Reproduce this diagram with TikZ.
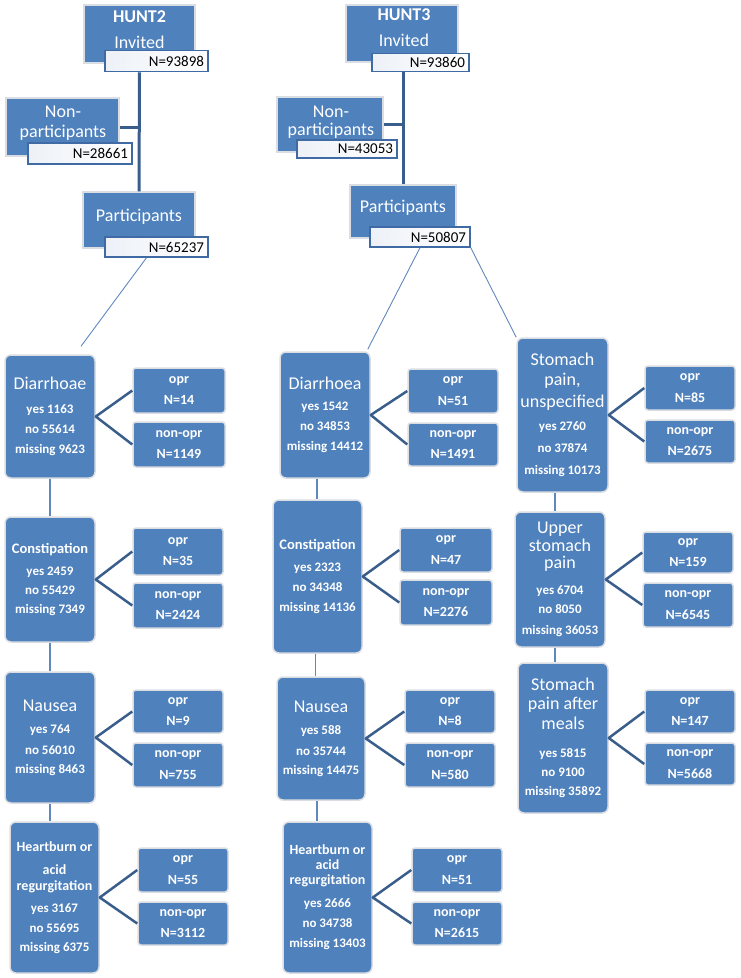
\documentclass[tikz,border=0pt]{standalone}
\usepackage{fontspec}
\setmainfont{Carlito}
\usetikzlibrary{calc}
\definecolor{boxblue}{HTML}{4F81BD}
\definecolor{glow}{HTML}{DADDE2}
\definecolor{bardark}{HTML}{3F6AA3}
\definecolor{barlight}{HTML}{EDF1F7}
\definecolor{conn}{HTML}{3A5E8C}
\definecolor{thinblue}{HTML}{5F88BE}
\newcommand\symfont{\fontsize{13}{20}\selectfont\bfseries\lineskiplimit=-40pt\relax}
\newcommand\symtitle[1]{{\fontsize{18}{20}\selectfont\mdseries #1}}
\newcommand\symtitleb[1]{{\fontsize{14.5}{20}\selectfont #1}}
\newcommand\symtitleh[1]{{\fontsize{14}{20}\selectfont #1}}
\begin{document}
\begin{tikzpicture}[x=1pt,y=-1pt,
  sz/.style 2 args={minimum width=#1pt, minimum height=#2pt},
  topbox/.style={rectangle, fill=boxblue, draw=glow, line width=1.5pt, inner sep=0pt},
  toptxt/.style={text=white, align=center, inner sep=0pt},
  bar/.style={rectangle, left color=barlight, right color=white, draw=bardark, line width=1.5pt,
    align=right, font=\fontsize{15}{15}\selectfont, text=black, inner xsep=4pt, inner ysep=0pt},
  sym/.style={rectangle, rounded corners=6pt, fill=boxblue, draw=glow, line width=1.5pt,
    text=white, align=center, font=\symfont, inner sep=0pt},
  leaf/.style={rectangle, rounded corners=3pt, fill=boxblue, draw=glow, line width=1.5pt,
    text=white, align=center, font=\fontsize{14}{21.5}\selectfont\bfseries,
    minimum width=90pt, minimum height=44pt, inner sep=0pt},
  trunk/.style={draw=conn, line width=3pt},
  vconn/.style={draw=conn, line width=2.5pt, line join=round},
  thinline/.style={draw=thinblue, line width=0.9pt},
  vline/.style={draw=thinblue, line width=1.4pt}
]
\useasboundingbox (0,0) rectangle (740,978);

% ---------------- HUNT2 top ----------------
\node[topbox, sz={111}{58}] (h2box) at (139.5,34) {};
\node[toptxt, font=\fontsize{18}{26}\selectfont] (h2txt) at (139.5,30) {{\bfseries HUNT2}\\Invited};
\node[bar, text width=95pt, minimum height=21pt] (h2bar) at (156.5,61) {N=93898};

\node[topbox, sz={113}{58}] (np2box) at (62.5,127) {};
\node[toptxt, font=\fontsize{18}{20}\selectfont] (np2txt) at (63,123.5) {Non-\\participants};
\node[bar, text width=96pt, minimum height=21pt] (np2bar) at (80,153.5) {N=28661};

\node[topbox, sz={112}{56}] (p2box) at (139,220) {};
\node[toptxt, font=\fontsize{18}{20}\selectfont] (p2txt) at (139,216.5) {Participants};
\node[bar, text width=95pt, minimum height=20pt] (p2bar) at (156.5,247) {N=65237};

\draw[trunk] (h2bar.south -| h2box.center) -- (p2box.north);
\draw[trunk] (np2box.east) -- (np2box.east -| h2box.center);

% ---------------- HUNT3 top ----------------
\node[topbox, sz={112}{57}] (h3box) at (402,33.5) {};
\node[toptxt, font=\fontsize{18}{26}\selectfont] (h3txt) at (404,28) {{\bfseries HUNT3}\\Invited};
\node[bar, text width=89pt, minimum height=18pt] (h3bar) at (420.5,62.5) {N=93860};

\node[topbox, sz={106}{55}] (np3box) at (330,124.5) {};
\node[toptxt, font=\fontsize{18}{18}\selectfont] (np3txt) at (331,122) {Non-\\participants};
\node[bar, text width=92pt, minimum height=18pt] (np3bar) at (347,149) {N=43053};

\node[topbox, sz={106}{53}] (p3box) at (403,211.5) {};
\node[toptxt, font=\fontsize{18}{20}\selectfont] (p3txt) at (403,208) {Participants};
\node[bar, text width=92pt, minimum height=20pt] (p3bar) at (420,237) {N=50807};

\draw[trunk] (h3bar.south -| p3box.north) -- (p3box.north);
\draw[trunk] (np3box.east) -- (np3box.east -| p3box.north);

% ---------------- left column (HUNT2) ----------------
\node[sym, sz={90}{123}] (d2) at (50,416.5)
  {\symtitle{Diarrhoae}\\[3.5pt] yes 1163\\ no 55614\\ missing 9623};
\node[leaf, sz={92}{45}] (d2a) at (179,390.5) {opr\\N=14};
\node[leaf, sz={92}{45}] (d2b) at (179,444.5) {non-opr\\N=1149};

\node[sym, sz={90}{125}] (c2) at (50,579.5)
  {\symtitleb{Constipation}\\[2pt] yes 2459\\[-1pt] no 55429\\[-1pt] missing 7349};
\node[leaf, sz={90}{47}] (c2a) at (178,551.5) {opr\\N=35};
\node[leaf, sz={90}{45}] (c2b) at (178,605.5) {non-opr\\N=2424};

\node[sym, sz={90}{131}] (n2) at (50,737.5)
  {\symtitle{Nausea}\\[2pt] yes 764\\[1pt] no 56010\\[-1pt] missing 8463};
\node[leaf, sz={90}{43}] (n2a) at (178,711.5) {opr\\N=9};
\node[leaf, sz={90}{44}] (n2b) at (178,765) {non-opr\\N=755};

\node[sym, sz={89}{151}] (hb2) at (54.5,897.5)
  {\symtitleh{Heartburn or}\\[3pt] \symtitleh{acid}\\[-4pt] \symtitleh{regurgitation}\\[1.5pt] yes 3167\\ no 55695\\[-1pt] missing 6375};
\node[leaf, sz={90}{44}] (hb2a) at (183,870) {opr\\N=55};
\node[leaf, sz={90}{43}] (hb2b) at (183,923.5) {non-opr\\N=3112};

% ---------------- middle column (HUNT3) ----------------
\node[sym, sz={90}{126}] (d3) at (325,415)
  {\symtitle{Diarrhoea}\\[1.5pt] yes 1542\\ no 34853\\ missing 14412};
\node[leaf, sz={90}{44}] (d3a) at (453,391) {opr\\N=51};
\node[leaf, sz={90}{43}] (d3b) at (453,444.5) {non-opr\\N=1491};

\node[sym, sz={89}{153}] (c3) at (317.5,576.5)
  {\symtitleb{Constipation}\\[2pt] yes 2323\\ no 34348\\ missing 14136};
\node[leaf, sz={92}{44}] (c3a) at (446,550) {opr\\N=47};
\node[leaf, sz={92}{45}] (c3b) at (446,602.5) {non-opr\\N=2276};

\node[sym, sz={88}{123}] (n3) at (321,738.5)
  {\symtitle{Nausea}\\[2pt] yes 588\\[1pt] no 35744\\[-1pt] missing 14475};
\node[leaf, sz={90}{43}] (n3a) at (450,711.5) {opr\\N=8};
\node[leaf, sz={90}{44}] (n3b) at (450,765) {non-opr\\N=580};

\node[sym, sz={89}{151}] (hb3) at (327.5,897.5)
  {\symtitleh{Heartburn or}\\[-5pt] \symtitleh{acid}\\[-5pt] \symtitleh{regurgitation}\\[3pt] yes 2666\\ no 34738\\ missing 13403};
\node[leaf, sz={90}{44}] (hb3a) at (457,870) {opr\\N=51};
\node[leaf, sz={90}{43}] (hb3b) at (457,923.5) {non-opr\\N=2615};

% ---------------- right column (HUNT3) ----------------
\node[sym, sz={91}{154}] (s1) at (562.5,415)
  {\symtitle{Stomach}\\ \symtitle{pain,}\\[2pt] \symtitle{unspecified}\\[2.5pt] yes 2760\\[2pt] no 37874\\[2pt] missing 10173};
\node[leaf, sz={90}{44}] (s1a) at (690,388) {opr\\N=85};
\node[leaf, sz={90}{43}] (s1b) at (690,441.5) {non-opr\\N=2675};

\node[sym, sz={90}{135}] (s2) at (560,579.5)
  {\symtitle{Upper}\\[-2pt] \symtitle{stomach}\\[-3pt] \symtitle{pain}\\[6pt] yes 6704\\[-1pt] no 8050\\[1pt] missing 36053};
\node[leaf, sz={90}{41}] (s2a) at (688,552.5) {opr\\N=159};
\node[leaf, sz={90}{44}] (s2b) at (688,605) {non-opr\\N=6545};

\node[sym, sz={90}{150}] (s3) at (563,738)
  {\symtitle{Stomach}\\[-1pt] \symtitle{pain after}\\ \symtitle{meals}\\[8pt] yes 5815\\[-1pt] no 9100\\[-1pt] missing 35892};
\node[leaf, sz={90}{43}] (s3a) at (690,711.5) {opr\\N=147};
\node[leaf, sz={90}{42}] (s3b) at (690,764) {non-opr\\N=5668};

% ---------------- connectors ----------------
\draw[thinline] ([xshift=-10pt]p2bar.south) -- ([xshift=31pt,yshift=8pt]d2.north);
\draw[thinline] (p3bar.south) -- ([xshift=-3pt,yshift=2pt]d3.north east);
\draw[thinline] (p3bar.south east) -- (s1.north west);

\draw[vline] (d2.south) -- (d2.south |- c2.north);
\draw[vline] (c2.south) -- (c2.south |- n2.north);
\draw[vline] (n2.south) -- (n2.south |- hb2.north);

\draw[vline] ([xshift=-8pt]d3.south) -- ([xshift=-8pt]d3.south |- c3.north);
\draw[vline] ([xshift=-2pt]c3.south) -- ([xshift=-2pt]c3.south |- n3.north);
\draw[vline] ([xshift=-4pt]n3.south) -- ([xshift=-4pt]n3.south |- hb3.north);

\draw[vline] ([xshift=-7.5pt]s1.south) -- ([xshift=-7.5pt]s1.south |- s2.north);
\draw[vline] ([xshift=-5pt]s2.south) -- ([xshift=-5pt]s2.south |- s3.north);

\foreach \p in {d2,c2,n2,hb2,d3,c3,n3,hb3,s1,s2,s3}{
  \draw[vconn] (\p a.west) -- (\p.east) -- (\p b.west);
}
\end{tikzpicture}
\end{document}
